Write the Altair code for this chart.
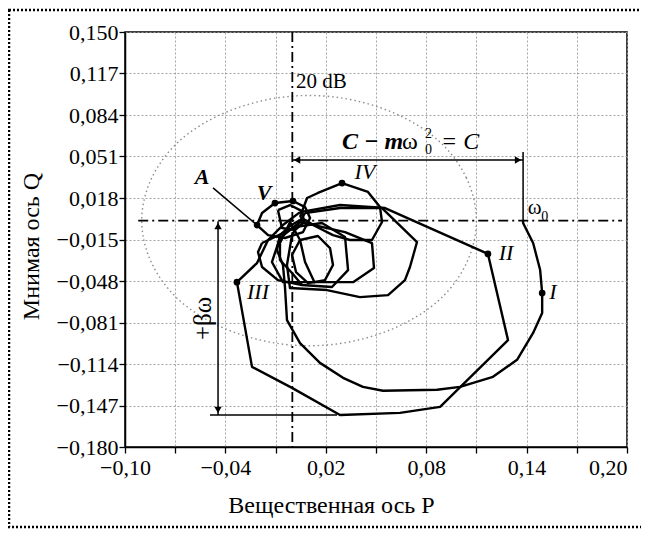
import altair as alt
import pandas as pd

# ---------------- axes ----------------
x_ticks = [-0.10, -0.07, -0.04, -0.01, 0.02, 0.05, 0.08, 0.11, 0.14, 0.17, 0.20]
y_ticks = [0.150, 0.117, 0.084, 0.051, 0.018, -0.015, -0.048, -0.081, -0.114, -0.147, -0.180]

# ---------------- hodograph curves ----------------
curve_I_P = [0.0046, -0.0014, -0.0074, -0.0092, -0.0056, -0.0044, -0.0032, 0.0046, 0.0165, 0.0303,
             0.0422, 0.0542, 0.0865, 0.1002, 0.1199, 0.1343, 0.1439, 0.1493, 0.1493, 0.1481,
             0.1439, 0.1379, 0.1379]
curve_I_Q = [0.0005, -0.0043, -0.0115, -0.0233, -0.0353, -0.0528, -0.0791, -0.0974, -0.1131, -0.1250,
             -0.1322, -0.1353, -0.1345, -0.1322, -0.1242, -0.1107, -0.0893, -0.0735, -0.0576, -0.0393,
             -0.0178, -0.0019, 0.0005]

curve_II_P = [0.0046, -0.0056, -0.0145, -0.0211, -0.0331, -0.0241, -0.0002, 0.0285, 0.0643, 0.0883,
              0.1289, 0.1169, 0.0554, 0.0285, 0.0046]
curve_II_Q = [0.0068, -0.0035, -0.0154, -0.0337, -0.0489, -0.1163, -0.1330, -0.1545, -0.1529, -0.1481,
              -0.0950, -0.0265, 0.0100, 0.0124, 0.0068]

loop_VA_P = [-0.0211, -0.0181, -0.0104, 0.0004, 0.0076, 0.0106, 0.0064, -0.0044, -0.0145, -0.0211]
loop_VA_Q = [-0.0035, 0.0061, 0.0140, 0.0156, 0.0108, 0.0021, -0.0091, -0.0138, -0.0115, -0.0035]

loop_in_P = [-0.0086, -0.0014, 0.0058, 0.0070, 0.0016, -0.0062, -0.0086]
loop_in_Q = [0.0084, 0.0124, 0.0076, -0.0011, -0.0075, -0.0059, 0.0084]

loop_B_P = [0.0046, 0.0153, 0.0225, 0.0243, 0.0195, 0.0094, 0.0022, -0.0002, 0.0046]
loop_B_Q = [-0.0154, -0.0122, -0.0218, -0.0353, -0.0473, -0.0497, -0.0409, -0.0273, -0.0154]

loop_C_P = [-0.0181, -0.0205, -0.0181, -0.0086, 0.0058, 0.0237, 0.0333, 0.0315, 0.0177, 0.0016, -0.0104, -0.0181]
loop_C_Q = [-0.0178, -0.0250, -0.0369, -0.0473, -0.0512, -0.0528, -0.0393, -0.0130, -0.0019, -0.0051, -0.0130, -0.0178]

loop_IV_P = [0.0046, 0.0088, 0.0153, 0.0297, 0.0452, 0.0524, 0.0536, 0.0476, 0.0345, 0.0243, 0.0147, 0.0046]
loop_IV_Q = [0.0029, 0.0180, 0.0220, 0.0299, 0.0228, 0.0108, -0.0011, -0.0154, -0.0154, -0.0115, -0.0051, 0.0029]

loop_E_P = [0.0076, 0.0285, 0.0536, 0.0745, 0.0703, 0.0673, 0.0572, 0.0404, 0.0207, -0.0014, -0.0032, -0.0002, 0.0076]
loop_E_Q = [0.0061, 0.0100, 0.0100, -0.0170, -0.0369, -0.0473, -0.0592, -0.0608, -0.0552, -0.0536, -0.0353, -0.0115, 0.0061]

loop_F_P = [0.0046, 0.0315, 0.0476, 0.0488, 0.0363, -0.0056, -0.0122, -0.0074, 0.0046]
loop_F_Q = [-0.0011, -0.0091, -0.0178, -0.0377, -0.0489, -0.0489, -0.0329, -0.0138, -0.0011]

fan_G_P = [-0.0002, -0.0074, -0.0074, -0.0002, 0.0058]
fan_G_Q = [0.0021, -0.0178, -0.0313, -0.0416, -0.0512]

fan_H_P = [-0.0014, 0.0046, 0.0076, 0.0135]
fan_H_Q = [-0.0011, -0.0154, -0.0329, -0.0497]

# 20 dB circle
circle_P = [0.110, 0.104, 0.087, 0.060, 0.027, -0.007, -0.040, -0.067, -0.084,
            -0.090, -0.084, -0.067, -0.040, -0.007, 0.027, 0.060, 0.087, 0.104]
circle_Q = [0.000, 0.034, 0.064, 0.086, 0.098, 0.098, 0.086, 0.064, 0.034,
            0.000, -0.034, -0.064, -0.086, -0.098, -0.098, -0.086, -0.064, -0.034]

# marked points
dots_P = [-0.0211, -0.0104, 0.0004, 0.0297, 0.1169, 0.1493, -0.0331]
dots_Q = [-0.0035, 0.0140, 0.0156, 0.0299, -0.0265, -0.0576, -0.0489]

FONT = "'Liberation Serif', 'Times New Roman', Times, serif"

curves = {
    "I": (curve_I_P, curve_I_Q), "II": (curve_II_P, curve_II_Q),
    "VA": (loop_VA_P, loop_VA_Q), "in": (loop_in_P, loop_in_Q),
    "B": (loop_B_P, loop_B_Q), "C": (loop_C_P, loop_C_Q),
    "IV": (loop_IV_P, loop_IV_Q), "E": (loop_E_P, loop_E_Q),
    "F": (loop_F_P, loop_F_Q), "G": (fan_G_P, fan_G_Q), "H": (fan_H_P, fan_H_Q),
}
rows = []
for name, (ps, qs) in curves.items():
    for i, (p, q) in enumerate(zip(ps, qs)):
        rows.append({"curve": name, "i": i, "P": p, "Q": q})
curves_df = pd.DataFrame(rows)

circle_df = pd.DataFrame({"P": circle_P, "Q": circle_Q, "i": list(range(len(circle_P)))})
dots_df = pd.DataFrame({"P": dots_P, "Q": dots_Q})

xs = alt.Scale(domain=[-0.10, 0.20], nice=False, zero=False)
ys = alt.Scale(domain=[-0.18, 0.15], nice=False, zero=False)

x_axis = alt.Axis(
    values=x_ticks,
    labelExpr="(round((datum.value + 0.1) * 100) % 6 == 0) ? replace(format(datum.value, '.2f'), '.', ',') : ''",
    grid=True, gridDash=[2, 2], gridColor="#9a9a9a", gridWidth=0.9,
    tickSize=6, tickColor="black", tickWidth=1.3, domainColor="black", domainWidth=1.5,
    labelFont=FONT, labelFontSize=22, labelColor="black", labelPadding=4,
    labelAlign={"condition": {"test": "datum.value > 0.19", "value": "right"}, "value": "center"},
    title="Вещественная ось P", titleFont=FONT, titleFontSize=24, titleFontWeight="normal",
    titleColor="black", titleX=206, titleY=58, titleBaseline="middle", titleAlign="center",
)
y_axis = alt.Axis(
    values=y_ticks,
    labelExpr="replace(format(datum.value, '.3f'), '.', ',')",
    grid=True, gridDash=[2, 2], gridColor="#9a9a9a", gridWidth=0.9,
    tickSize=6, tickColor="black", tickWidth=1.3, domainColor="black", domainWidth=1.5,
    labelFont=FONT, labelFontSize=22, labelColor="black", labelPadding=1,
    title="Мнимая ось Q", titleFont=FONT, titleFontSize=24, titleFontWeight="normal",
    titleColor="black", titleX=-94, titleY=214, titleAngle=270, titleBaseline="middle", titleAlign="center",
)

X = lambda: alt.X("P:Q", scale=xs, axis=x_axis)
Y = lambda: alt.Y("Q:Q", scale=ys, axis=y_axis)

# 20 dB circle
circle = alt.Chart(circle_df).mark_line(
    interpolate="cardinal-closed", color="#8c8c8c", strokeDash=[1.5, 3], strokeWidth=1.4
).encode(x=X(), y=Y(), order="i:Q")

# dash-dot axes P=0 and Q=0
vline_df = pd.DataFrame({"P": [0.0], "Q": [0.15], "Q2": [-0.18]})
hline_df = pd.DataFrame({"P": [-0.0921], "P2": [0.197], "Q": [0.0]})
vline = alt.Chart(vline_df).mark_rule(color="black", strokeWidth=1.8, strokeDash=[10, 4, 2, 4]).encode(
    x=X(), y=Y(), y2="Q2:Q")
hline = alt.Chart(hline_df).mark_rule(color="black", strokeWidth=1.8, strokeDash=[10, 4, 2, 4]).encode(
    x=X(), x2="P2:Q", y=Y())

curve_layer = alt.Chart(curves_df).mark_line(
    color="black", strokeWidth=2.4, strokeJoin="round"
).encode(x=X(), y=Y(), detail="curve:N", order="i:Q")

dots = alt.Chart(dots_df).mark_point(filled=True, color="black", size=45, opacity=1).encode(x=X(), y=Y())

# dimension lines
seg_df = pd.DataFrame({
    "seg": ["lead", "lead", "carrow", "carrow", "w0", "w0", "barrow", "barrow", "bext", "bext"],
    "i": [0, 1, 0, 1, 0, 1, 0, 1, 0, 1],
    "P": [-0.0474, -0.0211, 0.0000, 0.1379, 0.1379, 0.1379, -0.0444, -0.0444, -0.0492, 0.0267],
    "Q": [0.0260, -0.0035, 0.0482, 0.0482, 0.0545, 0.0005, -0.0005, -0.1545, -0.1545, -0.1545],
})
segs = alt.Chart(seg_df).mark_line(color="black", strokeWidth=1.5).encode(
    x=X(), y=Y(), detail="seg:N", order="i:Q")

heads_df = pd.DataFrame({
    "P": [0.0028, 0.1349, -0.0444, -0.0444],
    "Q": [0.0482, 0.0482, -0.0043, -0.1505],
    "shape": ["triangle-left", "triangle-right", "triangle-up", "triangle-down"],
})
heads = alt.Chart(heads_df).mark_point(filled=True, color="black", size=55, opacity=1).encode(
    x=X(), y=Y(), shape=alt.Shape("shape:N", scale=None))

# labels
def txt(df, **kw):
    base = dict(font=FONT, color="black", baseline="middle")
    base.update(kw)
    return alt.Chart(df).mark_text(**base).encode(x=X(), y=Y(), text="t:N")

ital_df = pd.DataFrame({"P": [0.0434, 0.1277, 0.1557, -0.0205], "Q": [0.0386, -0.0258, -0.0568, -0.0570],
                        "t": ["IV", "II", "I", "III"]})
bold_df = pd.DataFrame({"P": [-0.0540, -0.0169], "Q": [0.0347, 0.0220], "t": ["A", "V"]})
reg_df = pd.DataFrame({"P": [0.0022, 0.1407], "Q": [0.1100, 0.0100], "t": ["20 dB", "ω"]})
sub_df = pd.DataFrame({"P": [0.1487, 0.0793, 0.0793], "Q": [0.0030, 0.0561, 0.0689], "t": ["0", "0", "2"]})
f1_df = pd.DataFrame({"P": [0.0297], "Q": [0.0625], "t": ["C − m"]})
f2_df = pd.DataFrame({"P": [0.0655], "Q": [0.0625], "t": ["ω"]})
f3_df = pd.DataFrame({"P": [0.0889], "Q": [0.0625], "t": ["= C"]})
beta_df = pd.DataFrame({"P": [-0.0534], "Q": [-0.0778], "t": ["+βω"]})

t_ital = txt(ital_df, fontSize=22, fontStyle="italic", align="center")
t_bold = txt(bold_df, fontSize=22, fontStyle="italic", fontWeight="bold", align="center")
t_reg = txt(reg_df, fontSize=21, align="left")
t_sub = txt(sub_df, fontSize=14, align="left")
t_f1 = txt(f1_df, fontSize=24, fontStyle="italic", fontWeight="bold", align="left")
t_f2 = txt(f2_df, fontSize=24, align="left")
t_f3 = txt(f3_df, fontSize=24, fontStyle="italic", align="left")
t_beta = txt(beta_df, fontSize=25, align="center", angle=270)

# dotted frame around the figure
frame = alt.Chart(pd.DataFrame({"k": [0]})).mark_rect(
    fillOpacity=0, stroke="black", strokeDash=[2, 2], strokeWidth=2.5
).encode(x=alt.value(-116), x2=alt.value(600), y=alt.value(-22), y2=alt.value(495))

chart = alt.layer(
    circle, vline, hline, curve_layer, segs, heads, dots,
    t_ital, t_bold, t_reg, t_sub, t_f1, t_f2, t_f3, t_beta, frame
).properties(
    width=502, height=415,
    autosize=alt.AutoSizeParams(type="none"),
    padding={"left": 117, "top": 24, "right": 14, "bottom": 83},
).configure_view(stroke="black", strokeWidth=1.5)

chart.save("out.html", embed_options={"renderer": "svg", "actions": False})
